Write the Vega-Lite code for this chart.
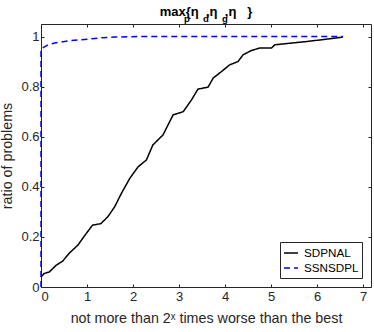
{
  "$schema": "https://vega.github.io/schema/vega-lite/v6.json",
  "width": 330,
  "height": 263,
  "autosize": {"type": "none"},
  "padding": {"left": 41, "top": 24, "right": 3, "bottom": 45},
  "background": "white",
  "title": {
    "text": "max{η\u00a0\u00a0,η\u00a0\u00a0,η\u00a0\u00a0\u00a0}",
    "subtitle": "\u00a0\u00a0\u00a0\u00a0\u00a0\u00a0\u00a0\u00a0\u00a0\u00a0\u00a0\u00a0p\u00a0\u00a0\u00a0\u00a0\u00a0d\u00a0\u00a0\u00a0\u00a0\u00a0g",
    "anchor": "middle",
    "frame": "group",
    "font": "Liberation Sans",
    "fontSize": 13,
    "fontWeight": "bold",
    "color": "black",
    "subtitleFont": "Liberation Sans",
    "subtitleFontSize": 9.5,
    "subtitleFontWeight": "bold",
    "subtitleColor": "black",
    "subtitlePadding": -5,
    "offset": 0
  },
  "data": {
    "values": [
      {"solver": "SDPNAL", "i": 1, "x": 0, "y": 0.04},
      {"solver": "SDPNAL", "i": 2, "x": 0.07, "y": 0.054},
      {"solver": "SDPNAL", "i": 3, "x": 0.18, "y": 0.06},
      {"solver": "SDPNAL", "i": 4, "x": 0.33, "y": 0.087},
      {"solver": "SDPNAL", "i": 5, "x": 0.47, "y": 0.103},
      {"solver": "SDPNAL", "i": 6, "x": 0.62, "y": 0.136},
      {"solver": "SDPNAL", "i": 7, "x": 0.8, "y": 0.167},
      {"solver": "SDPNAL", "i": 8, "x": 0.94, "y": 0.203},
      {"solver": "SDPNAL", "i": 9, "x": 1.12, "y": 0.247},
      {"solver": "SDPNAL", "i": 10, "x": 1.3, "y": 0.253},
      {"solver": "SDPNAL", "i": 11, "x": 1.45, "y": 0.28},
      {"solver": "SDPNAL", "i": 12, "x": 1.6, "y": 0.32},
      {"solver": "SDPNAL", "i": 13, "x": 1.75, "y": 0.375},
      {"solver": "SDPNAL", "i": 14, "x": 1.93, "y": 0.434},
      {"solver": "SDPNAL", "i": 15, "x": 2.11, "y": 0.48},
      {"solver": "SDPNAL", "i": 16, "x": 2.29, "y": 0.507},
      {"solver": "SDPNAL", "i": 17, "x": 2.43, "y": 0.567},
      {"solver": "SDPNAL", "i": 18, "x": 2.65, "y": 0.607},
      {"solver": "SDPNAL", "i": 19, "x": 2.76, "y": 0.647},
      {"solver": "SDPNAL", "i": 20, "x": 2.87, "y": 0.687},
      {"solver": "SDPNAL", "i": 21, "x": 3.09, "y": 0.7},
      {"solver": "SDPNAL", "i": 22, "x": 3.27, "y": 0.747},
      {"solver": "SDPNAL", "i": 23, "x": 3.41, "y": 0.79},
      {"solver": "SDPNAL", "i": 24, "x": 3.63, "y": 0.798},
      {"solver": "SDPNAL", "i": 25, "x": 3.74, "y": 0.834},
      {"solver": "SDPNAL", "i": 26, "x": 3.92, "y": 0.86},
      {"solver": "SDPNAL", "i": 27, "x": 4.1, "y": 0.887},
      {"solver": "SDPNAL", "i": 28, "x": 4.28, "y": 0.9},
      {"solver": "SDPNAL", "i": 29, "x": 4.39, "y": 0.927},
      {"solver": "SDPNAL", "i": 30, "x": 4.57, "y": 0.944},
      {"solver": "SDPNAL", "i": 31, "x": 4.75, "y": 0.954},
      {"solver": "SDPNAL", "i": 32, "x": 5.01, "y": 0.954},
      {"solver": "SDPNAL", "i": 33, "x": 5.08, "y": 0.967},
      {"solver": "SDPNAL", "i": 34, "x": 5.77, "y": 0.98},
      {"solver": "SDPNAL", "i": 35, "x": 6.28, "y": 0.991},
      {"solver": "SDPNAL", "i": 36, "x": 6.56, "y": 0.998},
      {"solver": "SSNSDPL", "i": 1, "x": 0, "y": 0},
      {"solver": "SSNSDPL", "i": 2, "x": 0, "y": 0.95},
      {"solver": "SSNSDPL", "i": 3, "x": 0.15, "y": 0.967},
      {"solver": "SSNSDPL", "i": 4, "x": 0.3, "y": 0.974},
      {"solver": "SSNSDPL", "i": 5, "x": 0.62, "y": 0.983},
      {"solver": "SSNSDPL", "i": 6, "x": 1.1, "y": 0.991},
      {"solver": "SSNSDPL", "i": 7, "x": 1.3, "y": 0.995},
      {"solver": "SSNSDPL", "i": 8, "x": 1.6, "y": 0.998},
      {"solver": "SSNSDPL", "i": 9, "x": 2.2, "y": 1.0},
      {"solver": "SSNSDPL", "i": 10, "x": 6.56, "y": 1.0}
    ]
  },
  "layer": [
    {
      "mark": {"type": "line", "strokeWidth": 1.5, "clip": false},
      "encoding": {
        "x": {
          "field": "x", "type": "quantitative",
          "scale": {"domain": [0, 7.17], "nice": false, "zero": false},
          "axis": {
            "orient": "bottom", "values": [0, 1, 2, 3, 4, 5, 6, 7], "format": "d",
            "title": "not more than 2ˣ times worse than the best",
            "domain": false, "grid": false, "tickSize": -3, "tickColor": "#262626",
            "labelFontSize": 13, "labelColor": "#262626", "labelPadding": 6,
            "titleFontSize": 14.3, "titleFontWeight": "normal", "titleColor": "#262626", "titlePadding": 8
          }
        },
        "y": {
          "field": "y", "type": "quantitative",
          "scale": {"domain": [0, 1.05], "nice": false},
          "axis": {
            "orient": "left", "values": [0, 0.2, 0.4, 0.6, 0.8, 1], "format": "~g",
            "title": "ratio of problems",
            "domain": false, "grid": false, "tickSize": -3, "tickColor": "#262626",
            "labelFontSize": 13, "labelColor": "#262626", "labelPadding": 5,
            "titleFontSize": 14.3, "titleFontWeight": "normal", "titleColor": "#262626", "titlePadding": 6
          }
        },
        "color": {
          "field": "solver", "type": "nominal",
          "scale": {"domain": ["SDPNAL", "SSNSDPL"], "range": ["#000000", "#0000ff"]},
          "legend": {
            "title": null, "orient": "bottom-right", "offset": 9,
            "strokeColor": "#262626", "fillColor": "white", "padding": 3,
            "labelFontSize": 11.7, "labelColor": "black", "labelOffset": 5,
            "symbolType": "stroke", "symbolSize": 196, "symbolStrokeWidth": 1.5, "rowPadding": 0
          }
        },
        "strokeDash": {
          "field": "solver", "type": "nominal",
          "scale": {"domain": ["SDPNAL", "SSNSDPL"], "range": [[1, 0], [6, 4]]},
          "legend": {
            "title": null, "orient": "bottom-right", "offset": 9,
            "strokeColor": "#262626", "fillColor": "white", "padding": 3,
            "labelFontSize": 11.7, "labelColor": "black", "labelOffset": 5,
            "symbolType": "stroke", "symbolSize": 196, "symbolStrokeWidth": 1.5, "rowPadding": 0
          }
        },
        "order": {"field": "i", "type": "quantitative"}
      }
    },
    {
      "mark": {"type": "line", "strokeOpacity": 0},
      "encoding": {
        "x": {
          "field": "x", "type": "quantitative",
          "axis": {"orient": "top", "values": [0, 1, 2, 3, 4, 5, 6, 7], "labels": false, "title": null,
            "domain": false, "grid": false, "tickSize": -3, "tickColor": "#262626"}
        },
        "y": {
          "field": "y", "type": "quantitative",
          "axis": {"orient": "right", "values": [0, 0.2, 0.4, 0.6, 0.8, 1], "labels": false, "title": null,
            "domain": false, "grid": false, "tickSize": -3, "tickColor": "#262626"}
        },
        "detail": {"field": "solver", "type": "nominal"},
        "order": {"field": "i", "type": "quantitative"}
      }
    }
  ],
  "resolve": {"axis": {"x": "independent", "y": "independent"}},
  "config": {
    "font": "Liberation Sans",
    "view": {"stroke": "#262626", "strokeWidth": 1}
  }
}
